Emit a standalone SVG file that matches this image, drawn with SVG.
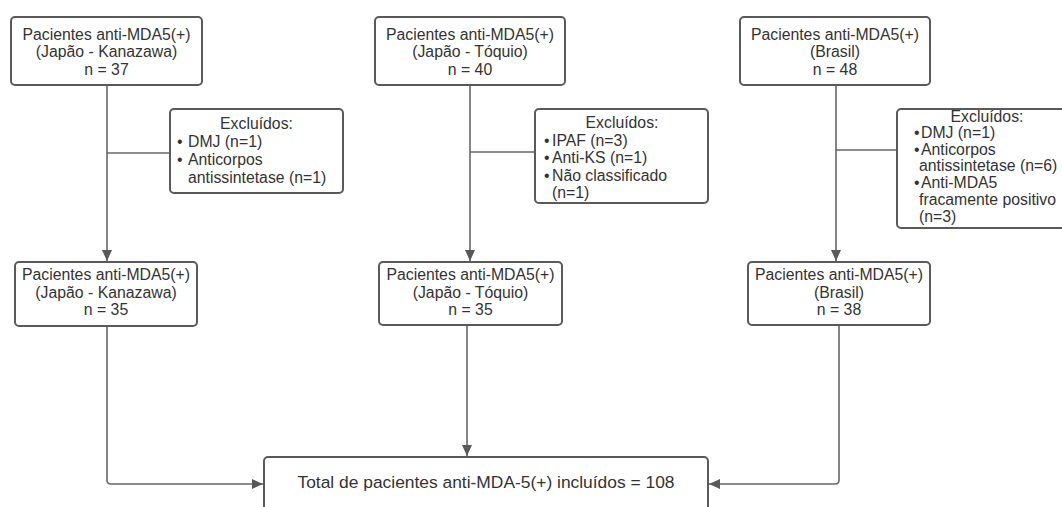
<svg xmlns="http://www.w3.org/2000/svg" width="1062" height="507" viewBox="0 0 1062 507">
<defs>
<marker id="arr" markerUnits="userSpaceOnUse" markerWidth="12" markerHeight="10" refX="11" refY="5" orient="auto">
<path d="M0,0 L11,5 L0,10 Z" fill="#595959"/>
</marker>
<style>
.box{fill:#fff;stroke:#5a5a5a;stroke-width:2}
.t{font-family:"Liberation Sans",Arial,sans-serif;font-size:15.8px;fill:#333}
.c{text-anchor:middle}
.big{font-size:17.4px}
.ln{fill:none;stroke:#666;stroke-width:1.6}
</style>
</defs>
<rect width="1062" height="507" fill="#fff"/>
<g id="connectors">
<path class="ln" d="M107,85 V261" marker-end="url(#arr)"/>
<path class="ln" d="M107,153 H170"/>
<path class="ln" d="M107,326 V480 Q107,484 111,484 H263" marker-end="url(#arr)"/>
<path class="ln" d="M470,85 V261" marker-end="url(#arr)"/>
<path class="ln" d="M470,152 H535"/>
<path class="ln" d="M467,325 V456" marker-end="url(#arr)"/>
<path class="ln" d="M836,85 V261" marker-end="url(#arr)"/>
<path class="ln" d="M836,150 H897"/>
<path class="ln" d="M839,325 V480 Q839,484 835,484 H709" marker-end="url(#arr)"/>
</g>
<g id="kanazawa-start">
<rect class="box" x="11" y="17" width="191" height="68" rx="4"/>
<text class="t c" x="106.5" y="39.5">Pacientes anti-MDA5(+)</text>
<text class="t c" x="106.5" y="57">(Japão - Kanazawa)</text>
<text class="t c" x="106.5" y="74.5">n = 37</text>
</g>
<g id="tokyo-start">
<rect class="box" x="375" y="17" width="190" height="68" rx="4"/>
<text class="t c" x="470" y="39.5">Pacientes anti-MDA5(+)</text>
<text class="t c" x="470" y="57">(Japão - Tóquio)</text>
<text class="t c" x="470" y="74.5">n = 40</text>
</g>
<g id="brasil-start">
<rect class="box" x="740" y="17" width="190" height="68" rx="4"/>
<text class="t c" x="835" y="39.5">Pacientes anti-MDA5(+)</text>
<text class="t c" x="835" y="57">(Brasil)</text>
<text class="t c" x="835" y="74.5">n = 48</text>
</g>
<g id="kanazawa-excl">
<rect class="box" x="170" y="109" width="173" height="84" rx="4"/>
<text class="t c" x="256.5" y="128.5">Excluídos:</text>
<text class="t" x="177" y="146.5">•</text><text class="t" x="188" y="146.5">DMJ (n=1)</text>
<text class="t" x="177" y="164.5">•</text><text class="t" x="188" y="164.5">Anticorpos</text>
<text class="t" x="188" y="182.5">antissintetase (n=1)</text>
</g>
<g id="tokyo-excl">
<rect class="box" x="535" y="109" width="173" height="94" rx="4"/>
<text class="t c" x="622" y="128">Excluídos:</text>
<text class="t" x="544" y="145.5">•</text><text class="t" x="552" y="145.5">IPAF (n=3)</text>
<text class="t" x="544" y="163">•</text><text class="t" x="552" y="163">Anti-KS (n=1)</text>
<text class="t" x="544" y="180.5">•</text><text class="t" x="552" y="180.5">Não classificado</text>
<text class="t" x="552" y="198">(n=1)</text>
</g>
<g id="brasil-excl">
<rect class="box" x="897" y="109" width="180" height="119" rx="4"/>
<text class="t c" x="987" y="121.5">Excluídos:</text>
<text class="t" x="914" y="138">•</text><text class="t" x="921" y="138">DMJ (n=1)</text>
<text class="t" x="914" y="154.7">•</text><text class="t" x="921" y="154.7">Anticorpos</text>
<text class="t" x="919" y="171.4">antissintetase (n=6)</text>
<text class="t" x="914" y="188.1">•</text><text class="t" x="921" y="188.1">Anti-MDA5</text>
<text class="t" x="919" y="204.8">fracamente positivo</text>
<text class="t" x="919" y="221.5">(n=3)</text>
</g>
<g id="kanazawa-incl">
<rect class="box" x="15" y="262" width="182" height="64" rx="4"/>
<text class="t c" x="106" y="280">Pacientes anti-MDA5(+)</text>
<text class="t c" x="106" y="297.5">(Japão - Kanazawa)</text>
<text class="t c" x="106" y="315">n = 35</text>
</g>
<g id="tokyo-incl">
<rect class="box" x="379" y="262" width="183" height="63" rx="4"/>
<text class="t c" x="470.5" y="280">Pacientes anti-MDA5(+)</text>
<text class="t c" x="470.5" y="297.5">(Japão - Tóquio)</text>
<text class="t c" x="470.5" y="315">n = 35</text>
</g>
<g id="brasil-incl">
<rect class="box" x="748" y="262" width="182" height="63" rx="4"/>
<text class="t c" x="839" y="280">Pacientes anti-MDA5(+)</text>
<text class="t c" x="839" y="297.5">(Brasil)</text>
<text class="t c" x="839" y="315">n = 38</text>
</g>
<g id="total">
<rect class="box" x="264" y="457" width="444" height="66" rx="4"/>
<text class="t c big" x="486" y="488">Total de pacientes anti-MDA-5(+) incluídos = 108</text>
</g>
</svg>
